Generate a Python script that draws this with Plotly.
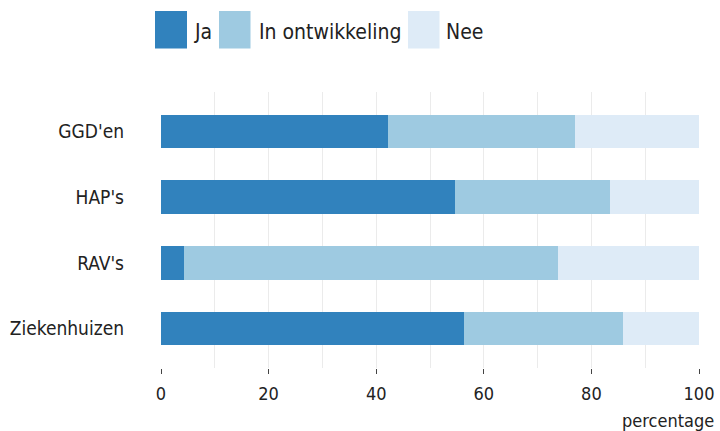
import plotly.graph_objects as go

categories = ["GGD'en", "HAP's", "RAV's", "Ziekenhuizen"]
series_names = ["Ja", "In ontwikkeling", "Nee"]
ja = [42.1, 54.7, 4.3, 56.4]
in_ontwikkeling = [34.8, 28.7, 69.5, 29.5]
nee = [23.1, 16.6, 26.2, 14.1]
series_values = [ja, in_ontwikkeling, nee]
colors = ["#3182bd", "#9ecae1", "#deebf7"]
x_ticks = [0, 20, 40, 60, 80, 100]
x_title = "percentage"

W, H = 720, 431
L, R, T, B = 161, 699, 92, 368
FONT = "DejaVu Sans Condensed, DejaVu Sans, sans-serif"


def px(x):
    return (x - L) / (R - L)


def py(y):
    return (B - y) / (B - T)


fig = go.Figure()
for name, vals, col in zip(series_names, series_values, colors):
    fig.add_trace(go.Bar(
        name=name, x=vals, y=categories, orientation="h",
        marker=dict(color=col, line=dict(width=0)),
        showlegend=False, hoverinfo="x+y+name",
    ))

# custom legend with large swatches
legend_boxes = [(155, 187, 192), (219, 250.5, 256.5), (408, 439.5, 444)]
shapes = []
annotations = []
for (x0, x1, tx), name, col in zip(legend_boxes, series_names, colors):
    shapes.append(dict(type="rect", xref="paper", yref="paper",
                       x0=px(x0), x1=px(x1), y0=py(48.5), y1=py(11),
                       fillcolor=col, line=dict(width=0), layer="above"))
    annotations.append(dict(text=name, xref="paper", yref="paper",
                            x=px(tx), y=py(32), xanchor="left", yanchor="middle",
                            showarrow=False,
                            font=dict(family=FONT, size=21, color="#222")))

annotations.append(dict(text=x_title, xref="paper", yref="paper",
                        x=px(716), y=py(420), xanchor="right", yanchor="middle",
                        showarrow=False,
                        font=dict(family=FONT, size=18, color="#222")))

fig.update_layout(
    width=W, height=H,
    margin=dict(l=L, r=W - R, t=T, b=H - B, pad=0, autoexpand=False),
    barmode="stack", bargap=0.49,
    plot_bgcolor="white", paper_bgcolor="white",
    font=dict(family=FONT, size=19, color="#222"),
    shapes=shapes, annotations=annotations,
    xaxis=dict(range=[0, 100], tickvals=x_ticks, showgrid=True,
               gridcolor="#ebebeb", gridwidth=1,
               minor=dict(dtick=10, showgrid=True, gridcolor="#ebebeb", gridwidth=1),
               ticks="outside", ticklen=5, tickcolor="#444", tickwidth=1,
               tickfont=dict(size=18), automargin=False,
               zeroline=False, showline=False, fixedrange=True,
               ticklabelstandoff=4),
    yaxis=dict(categoryorder="array", categoryarray=categories,
               range=[3.6, -0.6], showgrid=False, zeroline=False,
               showline=False, ticks="", ticklabelstandoff=36,
               automargin=False, fixedrange=True),
)

fix_page = (
    "var s=document.createElement('style');"
    "s.textContent='html,body{margin:0;padding:0;overflow:hidden;width:720px;height:431px;}"
    "body>div{display:block;height:431px;line-height:0;font-size:0;}';"
    "document.head.appendChild(s);"
)

fig.write_html("out.html", config={"displayModeBar": False}, post_script=fix_page)
